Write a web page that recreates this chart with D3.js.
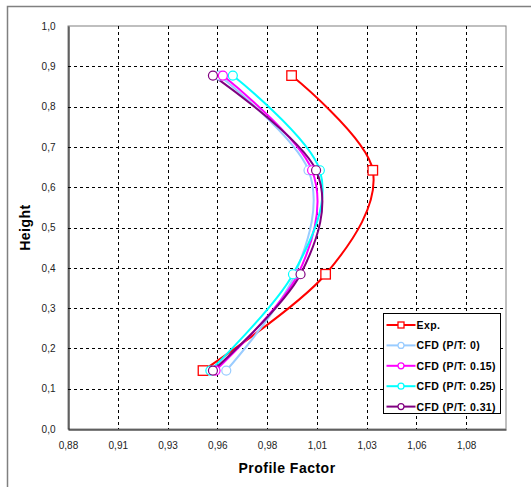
<!DOCTYPE html>
<html>
<head>
<meta charset="utf-8">
<script src="https://cdn.jsdelivr.net/npm/d3@7"></script>
<style>
  body { margin: 0; background: #fff; }
  svg text { font-family: Arial, "Liberation Sans", sans-serif; }
</style>
</head>
<body>
<svg class="chart" width="531" height="487"></svg>
<script>
// heights of the measuring stations (shared by every series)
var heights = [0.877, 0.642, 0.384, 0.145];
// profile factor per series, same order as heights
var expVals = [0.9923, 1.0331, 1.0094, 0.9478];
var cfd0Vals = [0.9560, 1.0008, 0.9940, 0.9595];
var cfd15Vals = [0.9578, 1.0026, 0.9955, 0.9541];
var cfd25Vals = [0.9628, 1.0065, 0.9930, 0.9515];
var cfd31Vals = [0.9528, 1.0046, 0.9968, 0.9528];

var seriesNames = ['Exp.', 'CFD (P/T: 0)', 'CFD (P/T: 0.15)', 'CFD (P/T: 0.25)', 'CFD (P/T: 0.31)'];
var seriesColors = ['#ff0000', '#99ccff', '#ff00ff', '#00ffff', '#800080'];
var seriesMarkers = ['square', 'circle', 'circle', 'circle', 'circle'];

var xTickValues = [0.88, 0.905, 0.93, 0.955, 0.98, 1.005, 1.03, 1.055, 1.08];
var xTickLabels = ['0,88', '0,91', '0,93', '0,96', '0,98', '1,01', '1,03', '1,06', '1,08'];
var yTickValues = [0, 0.1, 0.2, 0.3, 0.4, 0.5, 0.6, 0.7, 0.8, 0.9, 1.0];
var yTickLabels = ['0,0', '0,1', '0,2', '0,3', '0,4', '0,5', '0,6', '0,7', '0,8', '0,9', '1,0'];

var svg = d3.select('.chart');

// plot area box
var plot = {left: 68, top: 26, right: 506, bottom: 429};

var x = d3.scaleLinear().domain([0.88, 1.10]).range([plot.left, plot.right]);
var y = d3.scaleLinear().domain([0, 1]).range([plot.bottom, plot.top]);

//outer frame (runs off the bottom/right edges)
svg.append('path')
    .attr('d', 'M7.5,600 V6.5 H600')
    .attr('fill', 'none')
    .attr('stroke', '#808080')
    .attr('stroke-width', 1.5);

//plot background
svg.append('rect')
    .attr('x', plot.left).attr('y', plot.top)
    .attr('width', plot.right - plot.left).attr('height', plot.bottom - plot.top)
    .attr('fill', '#fff')
    .attr('stroke', '#808080');

//dashed grid
var grid = svg.append('g').classed('grid', true);
grid.selectAll('line.vx')
    .data(xTickValues.slice(1))
    .enter().append('line')
    .attr('x1', function(d){ return Math.round(x(d)) + 0.5; })
    .attr('x2', function(d){ return Math.round(x(d)) + 0.5; })
    .attr('y1', plot.top).attr('y2', plot.bottom)
    .attr('stroke', '#000').attr('stroke-dasharray', '3,3');
grid.selectAll('line.hy')
    .data(yTickValues.slice(1, -1))
    .enter().append('line')
    .attr('y1', function(d){ return Math.round(y(d)) + 0.5; })
    .attr('y2', function(d){ return Math.round(y(d)) + 0.5; })
    .attr('x1', plot.left).attr('x2', plot.right)
    .attr('stroke', '#000').attr('stroke-dasharray', '3,3');

//axes
var xAxis = d3.axisBottom(x).tickValues(xTickValues).tickSize(0).tickPadding(12)
    .tickFormat(function(d, i){ return xTickLabels[i]; });
var gx = svg.append('g').attr('transform', 'translate(0,' + (plot.bottom + 0.5) + ')').call(xAxis);
gx.select('.domain').attr('stroke', '#000');
gx.selectAll('text').attr('font-size', 10).attr('fill', '#222');

var yAxis = d3.axisLeft(y).tickValues(yTickValues).tickSize(0).tickPadding(13)
    .tickFormat(function(d, i){ return yTickLabels[i]; });
var gy = svg.append('g').attr('transform', 'translate(' + (plot.left + 0.5) + ',0)').call(yAxis);
gy.select('.domain').attr('stroke', '#000');
gy.selectAll('text').attr('font-size', 10).attr('fill', '#222');

//axis titles
svg.append('text')
    .attr('x', (plot.left + plot.right) / 2).attr('y', 473)
    .attr('text-anchor', 'middle')
    .attr('font-size', 14).attr('font-weight', 'bold')
    .attr('letter-spacing', 0.5)
    .text('Profile Factor');
svg.append('text')
    .attr('transform', 'translate(30,' + (plot.top + plot.bottom) / 2 + ') rotate(-90)')
    .attr('text-anchor', 'middle')
    .attr('font-size', 14).attr('font-weight', 'bold')
    .attr('letter-spacing', 0.5)
    .text('Height');

//build the series
var allVals = [expVals, cfd0Vals, cfd15Vals, cfd25Vals, cfd31Vals];
var series = allVals.map(function(vals, i){
    return {
        name: seriesNames[i],
        color: seriesColors[i],
        marker: seriesMarkers[i],
        points: vals.map(function(v, j){ return {x: v, y: heights[j]}; })
    };
});

var line = d3.line()
    .x(function(d){ return x(d.x); })
    .y(function(d){ return y(d.y); })
    .curve(d3.curveCardinal.tension(0));

var drawMarker = function(g, s, cx, cy, big){
    if(s.marker == 'square'){
        var h = big ? 9.5 : 6;
        g.append('rect')
            .attr('x', cx - h / 2).attr('y', cy - h / 2)
            .attr('width', h).attr('height', h)
            .attr('fill', '#fff').attr('stroke', s.color).attr('stroke-width', 1.3);
    } else {
        g.append('circle')
            .attr('cx', cx).attr('cy', cy).attr('r', big ? 4.5 : 3)
            .attr('fill', '#fff').attr('stroke', s.color).attr('stroke-width', 1.2);
    }
};

var lineHolder = svg.append('g').classed('line-holder', true);
series.forEach(function(s){
    lineHolder.append('path')
        .datum(s.points)
        .attr('d', line)
        .attr('fill', 'none')
        .attr('stroke', s.color)
        .attr('stroke-width', 2);
});
var markerHolder = svg.append('g').classed('marker-holder', true);
series.forEach(function(s){
    s.points.forEach(function(p){
        drawMarker(markerHolder, s, x(p.x), y(p.y), true);
    });
});

//legend
var legend = svg.append('g').attr('transform', 'translate(383.5,313.5)');
legend.append('rect')
    .attr('width', 117).attr('height', 100)
    .attr('fill', '#fff').attr('stroke', '#000');
series.forEach(function(s, i){
    var ly = 11.5 + i * 20.4;
    legend.append('line')
        .attr('x1', 3).attr('x2', 32).attr('y1', ly).attr('y2', ly)
        .attr('stroke', s.color).attr('stroke-width', 2);
    drawMarker(legend, s, 17.5, ly, false);
    legend.append('text')
        .attr('x', 33).attr('y', ly + 4)
        .attr('font-size', 10.5).attr('font-weight', 'bold')
        .attr('letter-spacing', 0.4)
        .text(s.name);
});
</script>
</body>
</html>
